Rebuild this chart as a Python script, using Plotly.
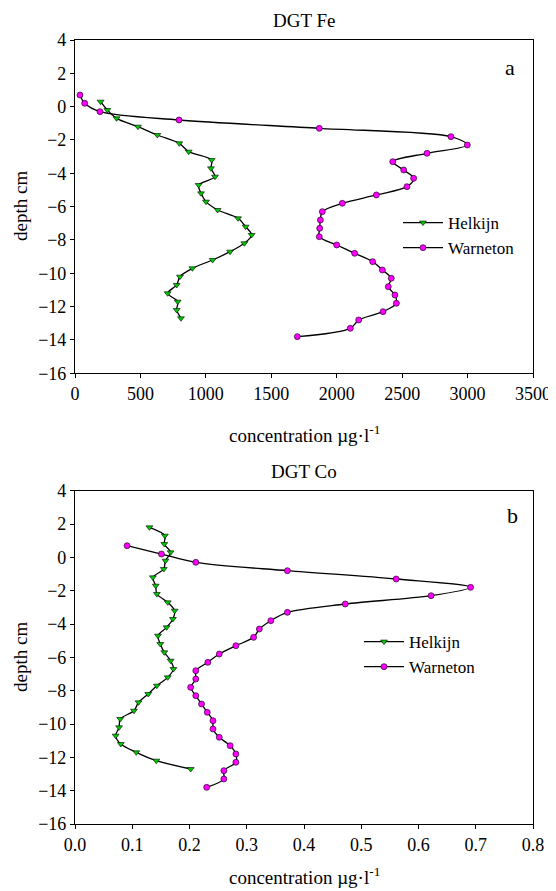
import plotly.graph_objects as go

# ---------------- data ----------------
helkijn_fe_depth = [0.3, -0.2, -0.7, -1.2, -1.7, -2.2, -2.7, -3.2, -3.7, -4.2, -4.7, -5.2, -5.7, -6.2,
                    -6.7, -7.2, -7.7, -8.2, -8.7, -9.2, -9.7, -10.2, -10.7, -11.2, -11.7, -12.2, -12.7]
helkijn_fe = [196, 247, 318, 481, 629, 797, 869, 1044, 1039, 1070, 945, 963, 1001, 1090,
              1246, 1304, 1350, 1294, 1185, 1052, 897, 802, 777, 708, 785, 777, 810]

warneton_depth = [0.7, 0.2, -0.3, -0.8, -1.3, -1.8, -2.3, -2.8, -3.3, -3.8, -4.3, -4.8, -5.3, -5.8, -6.3,
                  -6.8, -7.3, -7.8, -8.3, -8.8, -9.3, -9.8, -10.3, -10.8, -11.3, -11.8, -12.3, -12.8, -13.3, -13.8]
warneton_fe = [38, 74, 191, 795, 1867, 2873, 2998, 2690, 2428, 2512, 2588, 2537, 2303, 2043, 1890,
               1875, 1870, 1867, 2000, 2137, 2275, 2349, 2417, 2394, 2445, 2456, 2354, 2168, 2104, 1699]

helkijn_co_depth = [1.8, 1.3, 0.8, 0.3, -0.2, -0.7, -1.2, -1.7, -2.2, -2.7, -3.2, -3.7, -4.2, -4.7, -5.2,
                    -5.7, -6.2, -6.7, -7.2, -7.7, -8.2, -8.7, -9.2, -9.7, -10.2, -10.7, -11.2, -11.7, -12.2, -12.7]
helkijn_co = [0.130, 0.157, 0.156, 0.167, 0.158, 0.155, 0.136, 0.141, 0.143, 0.162, 0.174, 0.171, 0.160, 0.145, 0.149,
              0.156, 0.167, 0.172, 0.162, 0.143, 0.128, 0.111, 0.103, 0.079, 0.077, 0.071, 0.080, 0.107, 0.142, 0.202]
warneton_co = [0.091, 0.151, 0.211, 0.371, 0.561, 0.691, 0.622, 0.472, 0.371, 0.342, 0.322, 0.312, 0.281, 0.252, 0.232,
               0.211, 0.211, 0.202, 0.211, 0.221, 0.231, 0.241, 0.241, 0.252, 0.271, 0.281, 0.281, 0.260, 0.260, 0.230]

fe_xticks = [0, 500, 1000, 1500, 2000, 2500, 3000, 3500]
co_xticks = [0.0, 0.1, 0.2, 0.3, 0.4, 0.5, 0.6, 0.7, 0.8]
y_ticks = [-16, -14, -12, -10, -8, -6, -4, -2, 0, 2, 4]

# ---------------- figure ----------------
W, H = 556, 891
OFF = 8  # page body margin: figure is drawn 8px right/down of the window corner
FONT = "Liberation Serif"
GREEN = "#00c800"
MAGENTA = "#ff00ff"

def px_x(p):
    return (p - OFF) / W

def px_y(p):
    return 1 - (p - OFF) / H

fig = go.Figure()

line_style = dict(color="black", width=1.3, shape="spline", smoothing=0.9)
h_marker = dict(symbol="triangle-down", size=6, color=GREEN, line=dict(color="black", width=0.6))
w_marker = dict(symbol="circle", size=6, color=MAGENTA, line=dict(color="black", width=0.6))

fig.add_trace(go.Scatter(x=helkijn_fe, y=helkijn_fe_depth, mode="lines+markers", name="Helkijn",
                         line=line_style, marker=h_marker, xaxis="x", yaxis="y", legend="legend"))
fig.add_trace(go.Scatter(x=warneton_fe, y=warneton_depth, mode="lines+markers", name="Warneton",
                         line=line_style, marker=w_marker, xaxis="x", yaxis="y", legend="legend"))
fig.add_trace(go.Scatter(x=helkijn_co, y=helkijn_co_depth, mode="lines+markers", name="Helkijn",
                         line=line_style, marker=h_marker, xaxis="x2", yaxis="y2", legend="legend2"))
fig.add_trace(go.Scatter(x=warneton_co, y=warneton_depth, mode="lines+markers", name="Warneton",
                         line=line_style, marker=w_marker, xaxis="x2", yaxis="y2", legend="legend2"))

xdom = [px_x(75), px_x(533)]
top_dom = [px_y(373.3), px_y(40)]
bot_dom = [px_y(824), px_y(490.7)]

axis_common = dict(showline=True, linecolor="black", linewidth=1.2, mirror=True, ticks="outside",
                   ticklen=4, tickcolor="black", showgrid=False, zeroline=False,
                   tickfont=dict(family=FONT, size=18, color="black"), automargin=False)

fig.update_layout(
    width=W, height=H,
    margin=dict(l=0, r=0, t=0, b=0),
    paper_bgcolor="white", plot_bgcolor="white",
    font=dict(family=FONT, color="black"),
    xaxis=dict(domain=xdom, anchor="y", range=[0, 3500], tickvals=fe_xticks, **axis_common),
    yaxis=dict(domain=top_dom, anchor="x", range=[-16, 4], tickvals=y_ticks, **axis_common),
    xaxis2=dict(domain=xdom, anchor="y2", range=[0, 0.8], tickvals=co_xticks, tickformat=".1f", **axis_common),
    yaxis2=dict(domain=bot_dom, anchor="x2", range=[-16, 4], tickvals=y_ticks, **axis_common),
    legend=dict(x=px_x(398), y=px_y(205), xanchor="left", yanchor="top", bgcolor="rgba(0,0,0,0)",
                font=dict(family=FONT, size=17, color="black"), tracegroupgap=0, itemwidth=40),
    legend2=dict(x=px_x(359), y=px_y(624), xanchor="left", yanchor="top", bgcolor="rgba(0,0,0,0)",
                 font=dict(family=FONT, size=17, color="black"), tracegroupgap=0, itemwidth=40),
    showlegend=True,
)

def note(text, x, y, size=19, angle=0):
    return dict(text=text, x=px_x(x), y=px_y(y), xref="paper", yref="paper", showarrow=False,
                xanchor="center", yanchor="middle", textangle=angle,
                font=dict(family=FONT, size=size, color="black"))

ann = [
    note("DGT Fe", 304, 20),
    note("DGT Co", 304, 472),
    note("concentration \u00b5g\u00b7l<sup>-1</sup>", 304, 434),
    note("concentration \u00b5g\u00b7l<sup>-1</sup>", 304, 876),
    note("depth cm", 20, 206, angle=-90),
    note("depth cm", 20, 657, angle=-90),
    note("a", 510, 67, size=22),
    note("b", 512, 516, size=22),
]
fig.update_layout(annotations=ann)

fig.write_html("out.html")
